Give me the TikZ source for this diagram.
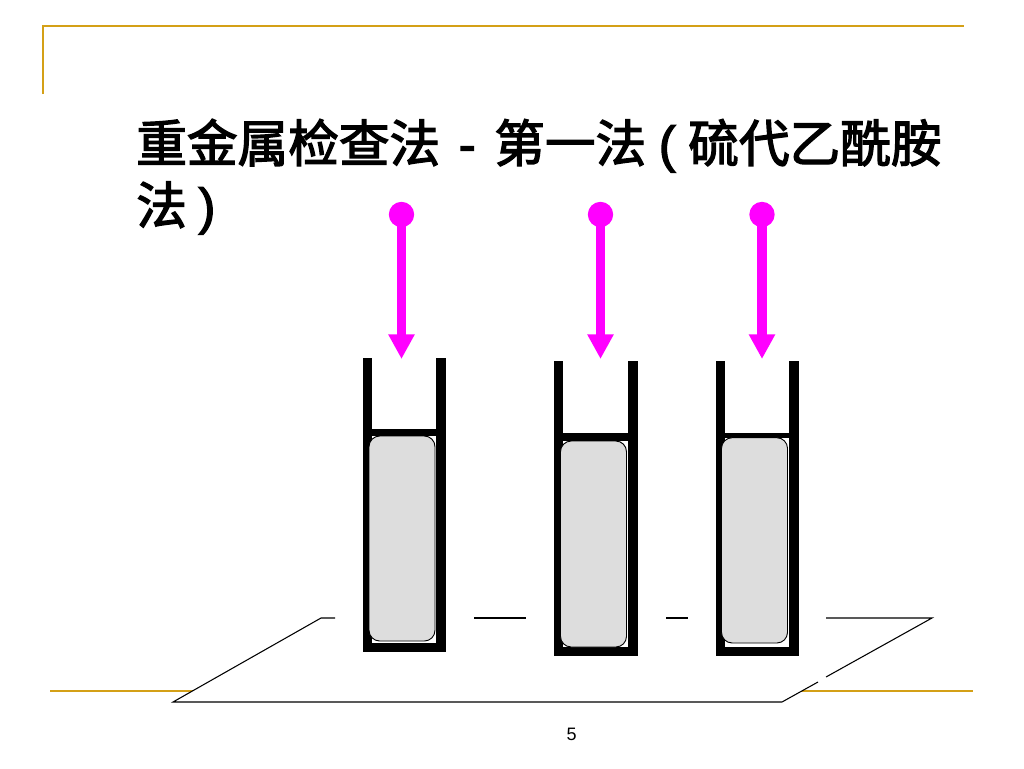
\documentclass[tikz,border=0pt]{standalone}
\usepackage{fontspec}
\setmainfont{Liberation Sans}
\newfontfamily\cjkfont[FakeBold=2.6]{Noto Sans CJK SC}
\newfontfamily\latfont[FakeBold=2.6]{Liberation Sans}
\usetikzlibrary{arrows.meta}
\definecolor{gold}{HTML}{D4A017}
\definecolor{mag}{HTML}{FF00FF}
\definecolor{cellgray}{HTML}{DDDDDD}
\tikzset{
  rule/.style={draw=gold,line width=2pt},
  wall/.style={fill=black,draw=none},
  cellwhite/.style={fill=white,draw=none},
  liquid/.style={fill=cellgray,draw=black,line width=0.7pt,rounded corners=8pt},
  dropdot/.style={circle,fill=mag,draw=none,minimum size=19pt,inner sep=0pt},
  droparrow/.style={draw=mag,line width=6.8pt,-{Triangle[length=18.5pt,width=18.6pt,fill=mag]}},
  plate/.style={draw=black,line width=0.8pt},
  titletext/.style={anchor=base west,align=left,inner sep=0pt,font=\fontsize{38pt}{46pt}\selectfont},
  pagenum/.style={font=\fontsize{13.5pt}{16pt}\selectfont,inner sep=0pt}
}
\newcommand{\cuvette}[8]{%
  % left, right, top, bar top, bar bottom, bottom, gray left, gray bottom
  \fill[wall] (#1,#3) rectangle (#2,#6);
  \fill[cellwhite] (#1+9.6,#3-1) rectangle (#2-9.6,#4);
  \fill[cellwhite] (#1+9.6,#5) rectangle (#2-9.6,#6-9);
  \path[liquid] (#7,#5) rectangle (#7+66,#8);
}
\newcommand{\gapbox}[2]{\makebox[#1pt][c]{\latfont #2}}
\begin{document}
\begin{tikzpicture}[x=0.75pt,y=-0.75pt]
\useasboundingbox (0,0) rectangle (1024,768);
\fill[white] (0,0) rectangle (1024,768);
% template rules
\draw[rule] (43,94) -- (43,26) -- (964,26);
\draw[rule] (50,691) -- (973,691);
% plate
\fill[white] (321,618) -- (932,618) -- (782,702) -- (173,702) -- cycle;
\draw[plate] (335,618) -- (321,618) -- (173,702) -- (782,702) -- (818,682);
\draw[plate] (826,677) -- (932,618) -- (826,618);
\draw[plate] (474,618) -- (526,618);
\draw[plate] (666,618) -- (688,618);
% cuvettes
\cuvette{362.7}{446}{358}{429}{436}{652}{369}{641}
\cuvette{553.7}{637.7}{361}{433}{441}{655.5}{560.5}{647}
\cuvette{715.5}{799}{361}{433}{437.7}{655.5}{721.5}{643}
% droppers
\node[dropdot] (d1) at (401.5,214.5) {};
\node[dropdot] (d2) at (600.5,214.5) {};
\node[dropdot] (d3) at (762,214.5) {};
\coordinate (t1) at (401.5,359);
\coordinate (t2) at (600.5,359);
\coordinate (t3) at (762,359);
\draw[droparrow] (d1.center) -- (t1);
\draw[droparrow] (d2.center) -- (t2);
\draw[droparrow] (d3.center) -- (t3);
% title
\node[titletext] (title1) at (136,162) {{\cjkfont 重金属检查法}\gapbox{40.5}{-}{\cjkfont 第一法}\gapbox{31.5}{(}{\cjkfont 硫代乙酰胺}};
\node[titletext] (title2) at (136,224) {{\cjkfont 法}\gapbox{30}{)}};
\node[pagenum] (page) at (571.5,734) {5};
\end{tikzpicture}
\end{document}
